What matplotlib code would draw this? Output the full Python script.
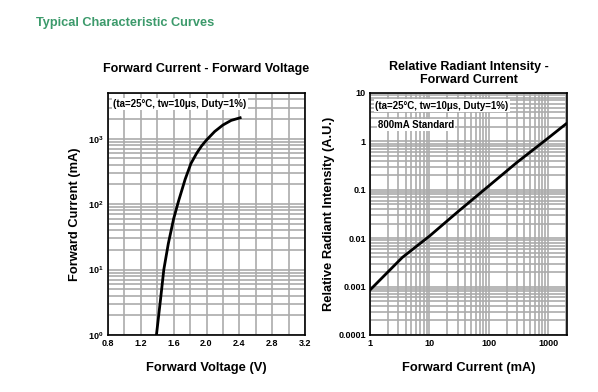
import matplotlib.pyplot as plt
from matplotlib.ticker import LogLocator, NullFormatter, FixedLocator

# Forward current vs forward voltage
vf = [1.39, 1.44, 1.48, 1.535, 1.60, 1.66, 1.74, 1.81, 1.88, 1.94, 2.0, 2.1, 2.2, 2.3, 2.41]
if_ma = [1, 3.5, 10, 25, 60, 112, 240, 417, 600, 776, 955, 1290, 1620, 1905, 2090]
vf_ticks = [0.8, 1.2, 1.6, 2.0, 2.4, 2.8, 3.2]

# Relative radiant intensity vs forward current
ir_ma = [1, 3.5, 10, 30, 100, 300, 1000, 2000]
rel_int = [0.00085, 0.004, 0.011, 0.035, 0.12, 0.37, 1.17, 2.3]
ri_ticks = [0.0001, 0.001, 0.01, 0.1, 1, 10]
ri_labels = ['0.0001', '0.001', '0.01', '0.1', '1', '10']
ir_ticks = [1, 10, 100, 1000]

cond = '(ta=25°C, tw=10μs, Duty=1%)'

plt.rcParams['font.family'] = 'Liberation Sans'
plt.rcParams['font.weight'] = 'bold'
plt.rcParams['mathtext.fontset'] = 'custom'
plt.rcParams['mathtext.rm'] = 'Liberation Sans:bold'
plt.rcParams['mathtext.bf'] = 'Liberation Sans:bold'

fig = plt.figure(figsize=(5.98, 3.92), dpi=100)
fig.text(36 / 598, 1 - 23 / 392, 'Typical Characteristic Curves', color='#3c9a6b',
         fontsize=9.2, fontweight='bold', va='center')

ax1 = fig.add_axes([108 / 598, 57 / 392, 197 / 598, 242 / 392])
ax2 = fig.add_axes([370 / 598, 57 / 392, 197 / 598, 242 / 392])

grid_kw = dict(color='#ababab', linewidth=1.2)

# left chart
ax1.set_yscale('log')
ax1.set_xlim(0.8, 3.2)
ax1.set_ylim(1, 5000)
ax1.xaxis.set_major_locator(FixedLocator(vf_ticks))
ax1.xaxis.set_minor_locator(FixedLocator([1.0, 1.4, 1.8, 2.2, 2.6, 3.0]))
ax1.set_xticklabels([f'{v:.1f}' for v in vf_ticks])
ax1.yaxis.set_major_locator(FixedLocator([1, 10, 100, 1000]))
ax1.set_yticklabels([r'$10^{0}$', r'$10^{1}$', r'$10^{2}$', r'$10^{3}$'])
ax1.yaxis.set_minor_locator(LogLocator(base=10, subs=range(2, 10)))
ax1.yaxis.set_minor_formatter(NullFormatter())
ax1.grid(which='both', **grid_kw)
ax1.plot(vf, if_ma, color='black', linewidth=2, solid_joinstyle='round')
ax1.text(0.025, 0.955, cond, transform=ax1.transAxes, fontsize=7, fontweight='bold',
         va='center', ha='left', bbox=dict(facecolor='white', edgecolor='none', pad=1))
ax1.set_title('Forward Current - Forward Voltage', fontsize=9, fontweight='bold', pad=15)
ax1.set_xlabel('Forward Voltage (V)', fontsize=9.3, fontweight='bold', labelpad=10)
ax1.set_ylabel('Forward Current (mA)', fontsize=9.3, fontweight='bold', labelpad=5)

# right chart
ax2.set_xscale('log')
ax2.set_yscale('log')
ax2.set_xlim(1, 2080)
ax2.set_ylim(0.0001, 10)
ax2.xaxis.set_major_locator(FixedLocator(ir_ticks))
ax2.set_xticklabels([str(v) for v in ir_ticks])
ax2.yaxis.set_major_locator(FixedLocator(ri_ticks))
ax2.set_yticklabels(ri_labels)
for axis in (ax2.xaxis, ax2.yaxis):
    axis.set_minor_locator(LogLocator(base=10, subs=range(2, 10), numticks=20))
    axis.set_minor_formatter(NullFormatter())
ax2.grid(which='both', **grid_kw)
ax2.plot(ir_ma, rel_int, color='black', linewidth=2, solid_joinstyle='round')
ax2.text(0.025, 0.947, cond, transform=ax2.transAxes, fontsize=7, fontweight='bold',
         va='center', ha='left', bbox=dict(facecolor='white', edgecolor='none', pad=1))
ax2.text(0.04, 0.868, '800mA Standard', transform=ax2.transAxes, fontsize=7,
         fontweight='bold', va='center', ha='left',
         bbox=dict(facecolor='white', edgecolor='none', pad=1))
ax2.set_title('Relative Radiant Intensity -\nForward Current', fontsize=9,
              fontweight='bold', pad=7, linespacing=1.15)
ax2.set_xlabel('Forward Current (mA)', fontsize=9.3, fontweight='bold', labelpad=10)
ax2.set_ylabel('Relative Radiant Intensity (A.U.)', fontsize=9.3, fontweight='bold', labelpad=2)

for ax in (ax1, ax2):
    ax.set_axisbelow(True)
    ax.tick_params(which='both', length=0, labelsize=6.5, pad=3)
    for s in ax.spines.values():
        s.set_color('black')
        s.set_linewidth(1.2)
    for lab in ax.get_xticklabels() + ax.get_yticklabels():
        lab.set_fontweight('bold')

fig.savefig('out.png', dpi=100)
